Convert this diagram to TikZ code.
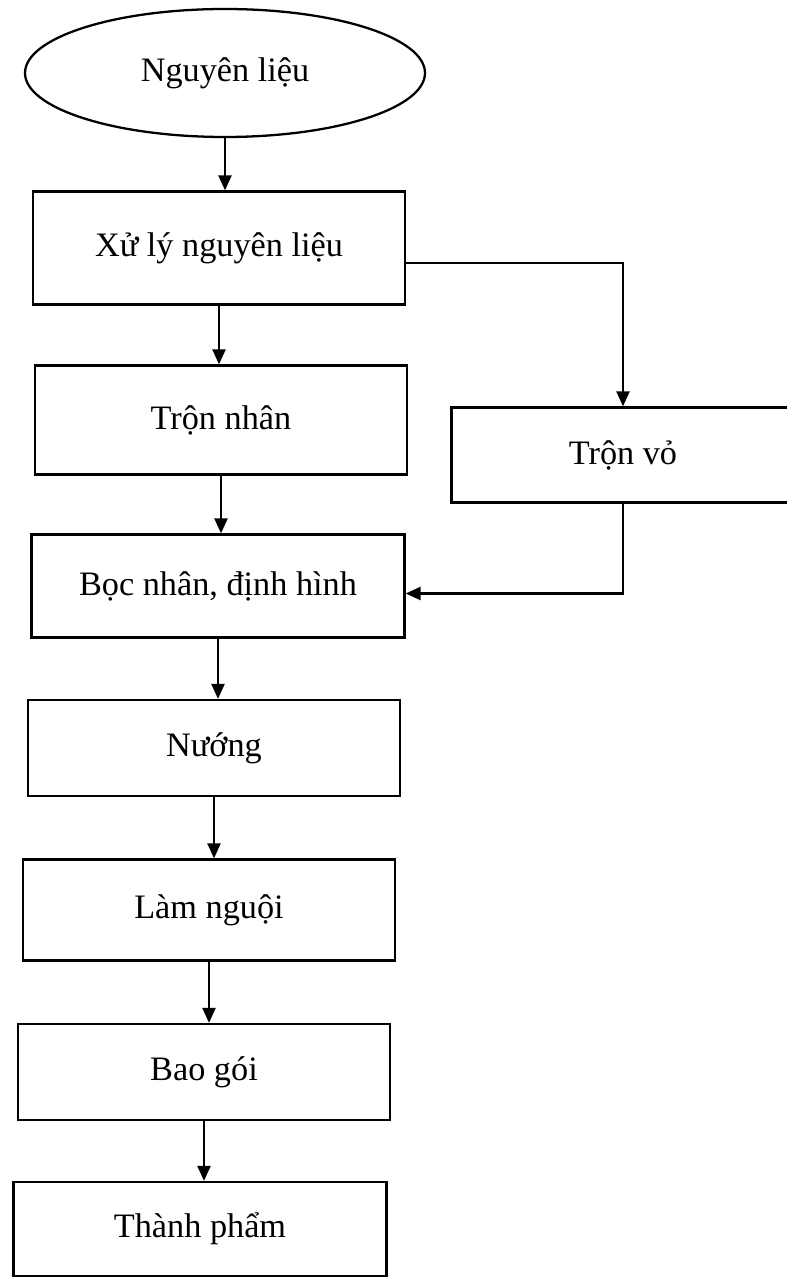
\documentclass[tikz,border=0pt]{standalone}
\usepackage{fontspec}
\setmainfont{Liberation Serif}
\usetikzlibrary{arrows.meta,shapes.geometric}
\begin{document}
\begin{tikzpicture}[
    font=\fontsize{19.5}{22}\selectfont,
    every node/.style={draw, line width=1.3pt, inner sep=0pt},
    stepbox/.style={rectangle, minimum width=7.44cm, minimum height=2cm},
    startbox/.style={ellipse, minimum width=8cm, minimum height=2.56cm},
    flow/.style={line width=1.3pt, -{Triangle[length=3mm,width=2.6mm]}}
  ]
  \useasboundingbox (0,0) rectangle (15.74,-25.64);
  \draw
    (4.5,-1.46) node[startbox] (nl){Nguyên liệu}
    (4.38,-4.96) node[stepbox, minimum height=2.26cm] (xl){Xử lý nguyên liệu}
    (4.42,-8.4) node[stepbox, minimum height=2.18cm] (tn){Trộn nhân}
    (12.46,-9.1) node[stepbox, minimum width=6.86cm, minimum height=1.9cm] (tv){Trộn vỏ}
    (4.36,-11.72) node[stepbox, minimum width=7.46cm, minimum height=2.06cm] (bn){Bọc nhân, định hình}
    (4.28,-14.96) node[stepbox, minimum height=1.92cm] (nu){Nướng}
    (4.18,-18.2) node[stepbox, minimum height=2.02cm] (ln){Làm nguội}
    (4.08,-21.44) node[stepbox, minimum height=1.92cm] (bg){Bao gói}
    (4.0,-24.58) node[stepbox, minimum width=7.46cm, minimum height=1.88cm] (tp){Thành phẩm};
  \begin{scope}[flow]
    \draw (nl.south) to (nl.south |- xl.north);
    \draw (xl.south) to (xl.south |- tn.north);
    \draw (tn.south) to (tn.south |- bn.north);
    \draw (bn.south) to (bn.south |- nu.north);
    \draw (nu.south) to (nu.south |- ln.north);
    \draw (ln.south) to (ln.south |- bg.north);
    \draw (bg.south) to (bg.south |- tp.north);
    \draw ([yshift=-0.3cm]xl.east) -| (tv.north);
    \draw (tv.south) |- ([yshift=-0.15cm]bn.east);
  \end{scope}
\end{tikzpicture}
\end{document}
